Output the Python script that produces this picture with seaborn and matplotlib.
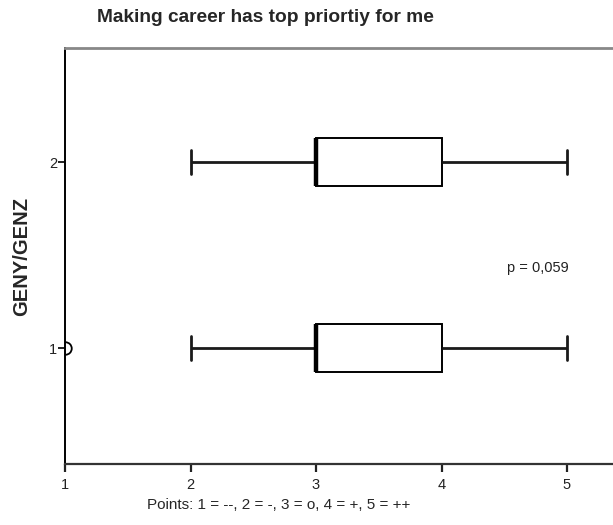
import numpy as np
import pandas as pd
import seaborn as sns
import matplotlib
matplotlib.use("Agg")
import matplotlib.pyplot as plt

# Response scale and answer counts per generation group
points = [1, 2, 3, 4, 5]
counts_geny = [1, 5, 12, 10, 4]   # group 1
counts_genz = [0, 4, 14, 9, 5]    # group 2
groups = ["2", "1"]               # top to bottom
p_value_text = "p = 0,059"

title = "Making career has top priortiy for me"
x_label = "Points: 1 = --, 2 = -, 3 = o, 4 = +, 5 = ++"
y_label = "GENY/GENZ"

rows = []
for grp, cnts in (("1", counts_geny), ("2", counts_genz)):
    for pt, c in zip(points, cnts):
        rows += [{"group": grp, "points": pt}] * c
df = pd.DataFrame(rows)

sns.set_style("white")
plt.rcParams["font.family"] = ["Liberation Sans", "DejaVu Sans"]

fig = plt.figure(figsize=(6.13, 5.25), dpi=100)
ax = fig.add_axes([65 / 613, 61 / 525, 548 / 613, 416 / 525])

sns.boxplot(
    data=df, x="points", y="group", order=groups, orient="h",
    width=0.26, color="white", linecolor="black", linewidth=1.4,
    whis=1.5, ax=ax,
    medianprops=dict(linewidth=3.2, color="black"),
    whiskerprops=dict(linewidth=2.0, color="#1a1a1a"),
    capprops=dict(linewidth=2.0, color="#1a1a1a"),
    flierprops=dict(marker="o", markersize=9, markerfacecolor="none",
                    markeredgecolor="black", markeredgewidth=1.3),
)

ax.set_xlim(1, 1 + 548 / 125.5)
ax.set_ylim(1 + 116 / 186, -114 / 186)
ax.set_xticks(points)
ax.set_xticklabels([str(p) for p in points])

ax.text(4.52, 1 - 80 / 186, p_value_text, fontsize=10.5, va="center", ha="left",
        color="#222222")

for side in ("left", "bottom", "top"):
    ax.spines[side].set_visible(True)
ax.spines["right"].set_visible(False)
ax.spines["left"].set_color("black")
ax.spines["left"].set_linewidth(1.4)
ax.spines["bottom"].set_color("#333333")
ax.spines["bottom"].set_linewidth(1.6)
ax.spines["top"].set_color("#888888")
ax.spines["top"].set_linewidth(2.0)

ax.tick_params(axis="x", direction="out", length=6, width=1.6,
               colors="#222222", labelsize=10.5, bottom=True, pad=4)
ax.tick_params(axis="y", direction="out", length=5, width=1.4,
               colors="#222222", labelsize=10.5, left=True, pad=0.5)

ax.set_xlabel(x_label, fontsize=11, ha="center")
ax.xaxis.set_label_coords((279 - 65) / 548, (464 - 505) / 416)
ax.xaxis.label.set_va("center")
ax.set_ylabel(y_label, fontsize=14.5, fontweight="bold")
ax.yaxis.set_label_coords(-43 / 548, (464 - 256) / 416)
ax.yaxis.label.set_va("center")
fig.text(265 / 613, 1 - 18 / 525, title, fontsize=13.8, fontweight="bold",
         ha="center", va="center")

fig.savefig("out.png", dpi=100)
